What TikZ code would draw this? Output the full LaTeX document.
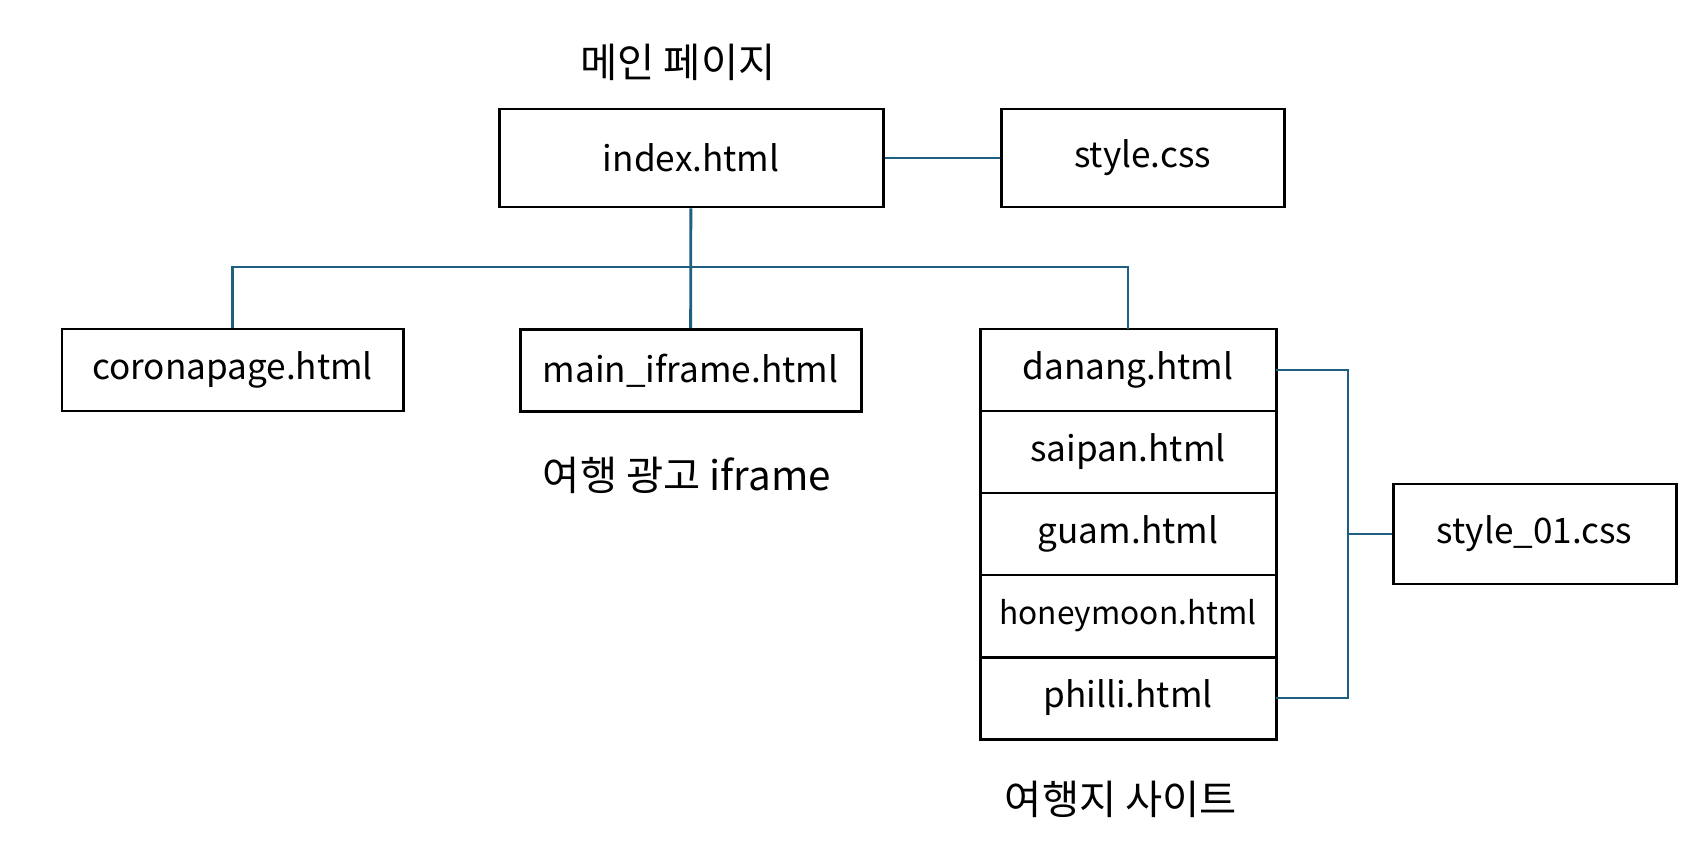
\documentclass[tikz,border=0pt]{standalone}
\usepackage{fontspec}
\setmainfont{Noto Sans CJK KR}
\usepackage{tikz}
\usetikzlibrary{positioning}

\definecolor{linkblue}{RGB}{31,95,130}

\begin{document}
\begin{tikzpicture}[
  font=\fontsize{20}{24}\selectfont,
  file/.style={draw, line width=1.7pt, align=center, inner sep=0pt,
               minimum width=6.82cm, minimum height=1.64cm},
  sheet/.style={file, minimum width=5.66cm, minimum height=1.96cm},
  page/.style={file, outer sep=0pt, minimum width=5.92cm, minimum height=1.64cm},
  note/.style={font=\fontsize{23}{27}\selectfont},
  link/.style={draw=linkblue, line width=1.6pt},
]
\useasboundingbox (0,0) rectangle (34.1,-17.18);
\node[note] (title) at (13.56,-1.24) {메인 페이지};
\node[file, minimum width=7.68cm, minimum height=1.96cm] (index) at (13.82,-3.16) {index.html};
\node[sheet] (style) at (22.85,-3.16) {style.css};
\node[file] (corona) at (4.65,-7.40) {coronapage.html};
\node[file] (main) at (13.81,-7.41) {main\_iframe.html};
\node[note] (adnote) at (13.74,-9.50) {여행 광고 iframe};
% travel pages, stacked
\node[page] (danang) at (22.56,-7.40) {danang.html};
\node[page, below=0pt of danang] (saipan) {saipan.html};
\node[page, below=0pt of saipan] (guam) {guam.html};
\node[page, below=0pt of guam, font=\fontsize{18}{22}\selectfont] (honey) {honeymoon.html};
\node[page, below=0pt of honey] (philli) {philli.html};
\node[note] (sitenote) at (22.42,-15.98) {여행지 사이트};
\node[sheet, minimum height=2.0cm] (style01) at (30.69,-10.68) {style\_01.css};
\coordinate (split) at (13.82,-5.34);
\coordinate (joint) at (26.96,-10.68);
\draw[link] (index) -- (style);
\draw[link] (index) -- (main);
\draw[link] (corona.north) |- (split) -| (danang.north);
\draw[link] (danang.east) -| (joint) |- (philli.east);
\draw[link] (joint) -- (style01);
\end{tikzpicture}
\end{document}
